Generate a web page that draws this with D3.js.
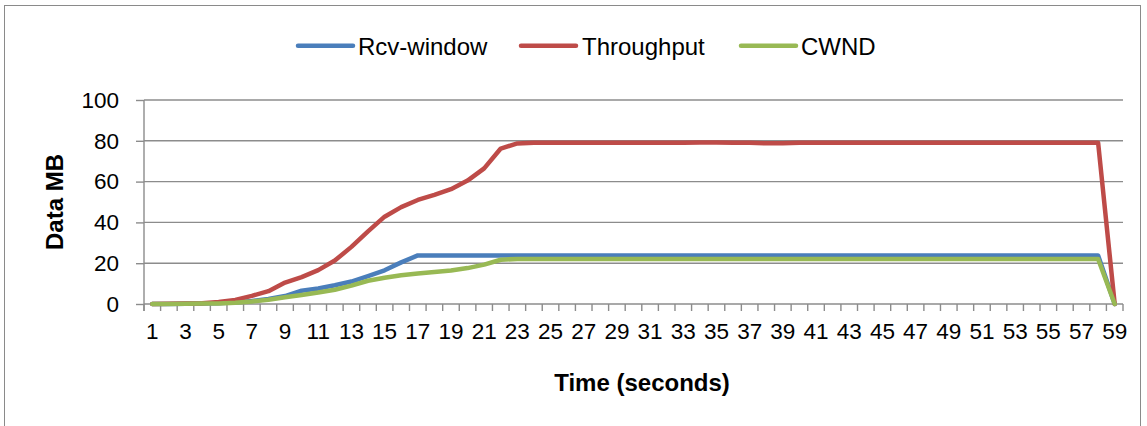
<!DOCTYPE html>
<html>
<head>
<meta charset="utf-8">
<script src="https://cdn.jsdelivr.net/npm/d3@7/dist/d3.min.js"></script>
<style>
  html, body { margin: 0; padding: 0; background: #fff; }
  svg { display: block; font-family: "Liberation Sans", Arial, sans-serif; }
</style>
</head>
<body>
<svg id="chart" width="1147" height="426"></svg>
<script>
const categories = d3.range(1, 60);
const xTickLabels = categories.filter(d => d % 2 === 1);
const yTicks = [0, 20, 40, 60, 80, 100];

const rcvWindow = [0, 0, 0.1, 0.2, 0.4, 0.8, 1.5, 2.5, 3.9, 6.5,
  7.6, 9.2, 11, 13.7, 16.5, 20.4, 23.8, 23.8, 23.8, 23.8,
  23.8, 23.8, 23.8, 23.8, 23.8, 23.8, 23.8, 23.8, 23.8, 23.8,
  23.8, 23.8, 23.8, 23.8, 23.8, 23.8, 23.8, 23.8, 23.8, 23.8,
  23.8, 23.8, 23.8, 23.8, 23.8, 23.8, 23.8, 23.8, 23.8, 23.8,
  23.8, 23.8, 23.8, 23.8, 23.8, 23.8, 23.8, 23.8, 0];

const throughput = [0, 0.1, 0.2, 0.4, 1, 2, 4, 6.3, 10.5, 13.2,
  16.6, 21.3, 28, 35.6, 42.8, 47.5, 51, 53.5, 56.3, 60.5,
  66.5, 76.2, 78.7, 79, 79.1, 79.1, 79.1, 79.1, 79.1, 79.1,
  79.1, 79.1, 79.1, 79.2, 79.2, 79.1, 79, 78.8, 78.8, 79,
  79.1, 79.1, 79.1, 79.1, 79.1, 79.1, 79.1, 79.1, 79.1, 79.1,
  79.1, 79.1, 79.1, 79.1, 79.1, 79.1, 79.1, 79.1, 0];

const cwnd = [0, 0, 0.1, 0.2, 0.3, 0.6, 1.2, 2.1, 3.3, 4.4,
  5.6, 7, 9, 11.4, 12.9, 14.1, 15, 15.7, 16.4, 17.6,
  19.3, 21.7, 22.1, 22.1, 22.1, 22.1, 22.1, 22.1, 22.1, 22.1,
  22.1, 22.1, 22.1, 22.1, 22.1, 22.1, 22.1, 22.1, 22.1, 22.1,
  22.1, 22.1, 22.1, 22.1, 22.1, 22.1, 22.1, 22.1, 22.1, 22.1,
  22.1, 22.1, 22.1, 22.1, 22.1, 22.1, 22.1, 22.1, 0];

const seriesNames = ["Rcv-window", "Throughput", "CWND"];
const seriesColors = ["#4a7ebb", "#be4b48", "#98b954"];
const seriesValues = [rcvWindow, throughput, cwnd];

const svg = d3.select("#chart");

// chart border
svg.append("rect")
  .attr("x", 4.5).attr("y", 5.5)
  .attr("width", 1136).attr("height", 440)
  .attr("fill", "none").attr("stroke", "#8a8a8a").attr("stroke-width", 1);

const plot = { left: 144, right: 1123, top: 100, bottom: 304 };

const x = d3.scaleBand().domain(categories).range([plot.left, plot.right]).padding(0);
const y = d3.scaleLinear().domain([0, 100]).range([plot.bottom, plot.top]);

// gridlines
svg.append("g").selectAll("line").data(yTicks.filter(d => d > 0)).join("line")
  .attr("x1", plot.left).attr("x2", plot.right)
  .attr("y1", d => y(d)).attr("y2", d => y(d))
  .attr("stroke", "#8c8c8c").attr("stroke-width", 1.4);

// y axis
const yAxis = svg.append("g").attr("transform", `translate(${plot.left},0)`)
  .call(d3.axisLeft(y).tickValues(yTicks).tickSize(8).tickPadding(17));
yAxis.select(".domain").attr("stroke", "#8c8c8c").attr("stroke-width", 1.4)
  .attr("d", `M0,${plot.top}V${plot.bottom + 7}`);
yAxis.selectAll(".tick line").attr("stroke", "#8c8c8c").attr("stroke-width", 1.4);
yAxis.selectAll(".tick text").attr("font-size", 22.5).attr("fill", "#000")
  .attr("font-family", "Liberation Sans, Arial, sans-serif");

// x axis
const xAxis = svg.append("g").attr("transform", `translate(0,${plot.bottom})`)
  .call(d3.axisBottom(x).tickValues(xTickLabels).tickSize(0).tickPadding(35));
xAxis.select(".domain").attr("stroke", "#8c8c8c").attr("stroke-width", 1.4)
  .attr("d", `M${plot.left},0H${plot.right}`);
xAxis.selectAll(".tick text").attr("font-size", 22.5).attr("fill", "#000")
  .attr("font-family", "Liberation Sans, Arial, sans-serif").attr("dy", 0);
// boundary tick marks between categories
const boundaries = categories.map(c => x(c)).concat([plot.right]);
svg.append("g").selectAll("line").data(boundaries).join("line")
  .attr("x1", d => d).attr("x2", d => d)
  .attr("y1", plot.bottom).attr("y2", plot.bottom + 7)
  .attr("stroke", "#8c8c8c").attr("stroke-width", 1.4);

// axis titles
svg.append("text")
  .attr("x", 642).attr("y", 391)
  .attr("text-anchor", "middle")
  .attr("font-size", 24).attr("font-weight", "bold").attr("fill", "#000")
  .text("Time (seconds)");
svg.append("text")
  .attr("transform", `translate(63,${(plot.top + plot.bottom) / 2}) rotate(-90)`)
  .attr("text-anchor", "middle")
  .attr("font-size", 24).attr("font-weight", "bold").attr("fill", "#000")
  .text("Data MB");

// lines
const line = d3.line()
  .x((d, i) => x(categories[i]) + x.bandwidth() / 2)
  .y(d => y(d));
svg.append("g").selectAll("path").data(seriesValues).join("path")
  .attr("d", d => line(d))
  .attr("fill", "none")
  .attr("stroke", (d, i) => seriesColors[i])
  .attr("stroke-width", 4.5)
  .attr("stroke-linejoin", "round")
  .attr("stroke-linecap", "round");

// legend
const legendItems = [
  { lx: 298, tx: 358 },
  { lx: 521, tx: 582 },
  { lx: 741, tx: 801 }
];
const lg = svg.append("g");
seriesNames.forEach((name, i) => {
  lg.append("line")
    .attr("x1", legendItems[i].lx).attr("x2", legendItems[i].lx + 55)
    .attr("y1", 45.7).attr("y2", 45.7)
    .attr("stroke", seriesColors[i]).attr("stroke-width", 4.5)
    .attr("stroke-linecap", "round");
  lg.append("text")
    .attr("x", legendItems[i].tx).attr("y", 55)
    .attr("font-size", 24).attr("fill", "#000")
    .text(name);
});
</script>
</body>
</html>
